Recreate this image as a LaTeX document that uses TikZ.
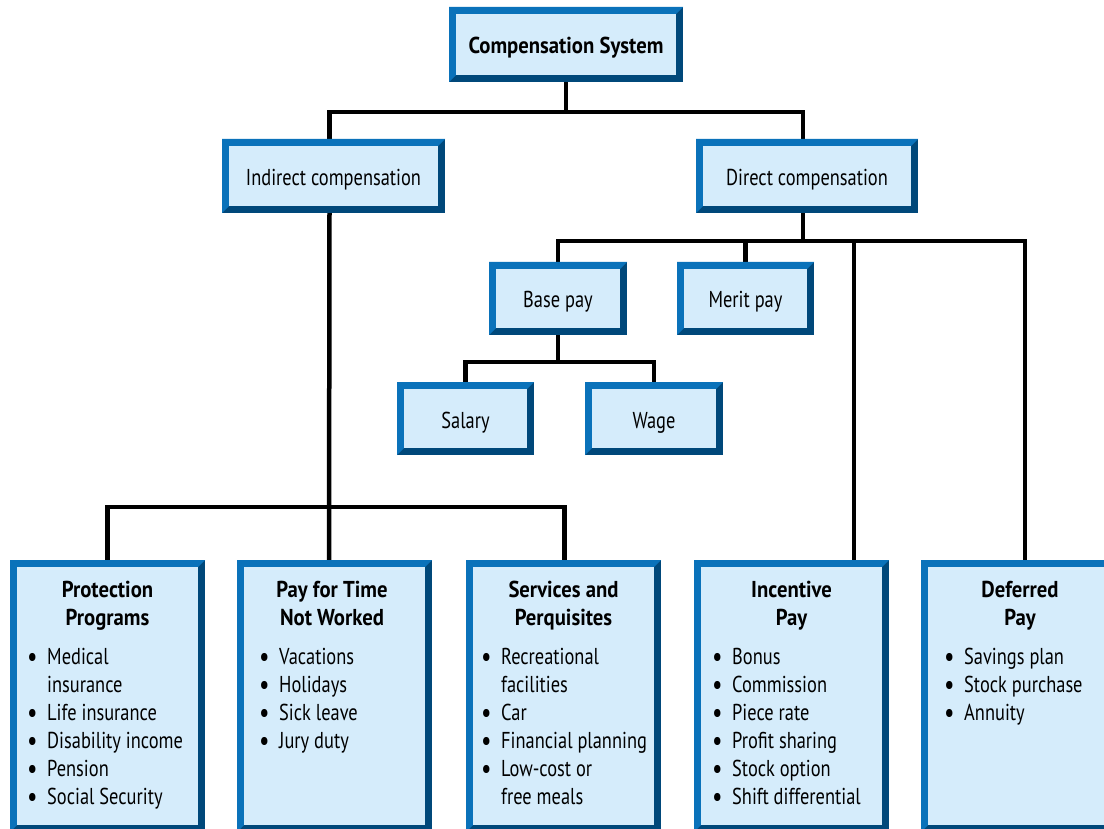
\documentclass[tikz,border=0pt]{standalone}
\usepackage{fontspec}
\setmainfont{PT Sans}[FakeStretch=0.8,BoldFeatures={FakeStretch=0.9}]
\usetikzlibrary{backgrounds,calc}
\definecolor{midb}{HTML}{0A72BA}
\definecolor{darkb}{HTML}{00487A}
\definecolor{innerb}{HTML}{D5ECFB}
\newcommand\bul[1]{\makebox[20pt][l]{\raisebox{-2pt}{\fontsize{29}{28}\selectfont•}}#1}
\newcommand\cont[1]{\hspace*{20pt}#1}
\tikzset{
  bevbox/.style={rectangle, inner sep=0pt, outer sep=0pt, fill=darkb,
    font=\fontsize{23}{28}\selectfont, text height=19pt, text depth=0pt,
    path picture={
      \fill[midb] (path picture bounding box.south west) -- (path picture bounding box.north west)
        -- (path picture bounding box.north east)
        -- ([shift={(-7pt,-7pt)}]path picture bounding box.north east)
        -- ([shift={(7pt,-7pt)}]path picture bounding box.north west)
        -- ([shift={(7pt,7pt)}]path picture bounding box.south west) -- cycle;
      \fill[innerb] ([shift={(7pt,7pt)}]path picture bounding box.south west)
        rectangle ([shift={(-7pt,-7pt)}]path picture bounding box.north east);
    }},
  smallbox/.style={bevbox, minimum width=137pt, minimum height=73pt},
  midbox/.style={bevbox, minimum width=223pt, minimum height=74pt},
  bigbox/.style={bevbox, minimum width=195pt, minimum height=272pt},
  conn/.style={line width=4.5pt, black, line join=miter},
  boxtitle/.style={anchor=base, inner sep=0pt, font=\bfseries\fontsize{23}{28}\selectfont},
  boxlist/.style={anchor=base west, inner sep=0pt, font=\fontsize{23}{28}\selectfont}
}
\begin{document}
\begin{tikzpicture}[x=1pt,y=-1pt]
\useasboundingbox (0,0) rectangle (1104,829);
\clip (0,0) rectangle (1104,829);
% top level
\node[bevbox, minimum width=234pt, minimum height=75pt] (cs) at (566,44.5) {\bfseries Compensation System};
\node[midbox] (ind) at (333.5,176) {Indirect compensation};
\node[midbox, minimum width=222pt] (dir) at (807,176) {Direct compensation};
\node[smallbox, minimum width=138pt] (base) at (558,298.5) {Base pay};
\node[smallbox] (merit) at (745.5,298.5) {Merit pay};
\node[smallbox] (sal) at (465.5,418.5) {Salary};
\node[smallbox, minimum width=138pt] (wage) at (654,418.5) {Wage};
% bottom boxes
\node[bigbox] (prot) at (107.5,696) {};
\node[bigbox] (pay) at (334.5,696) {};
\node[bigbox] (serv) at (563.5,696) {};
\node[bigbox] (inc) at (791.5,696) {};
\node[bigbox] (def) at (1018.5,696) {};
% titles
\node[boxtitle] (protT) at (107.5,597) {\begin{tabular}[t]{@{}c@{}}Protection\\Programs\end{tabular}};
\node[boxtitle] (payT) at (332,597) {\begin{tabular}[t]{@{}c@{}}Pay for Time\\Not Worked\end{tabular}};
\node[boxtitle] (servT) at (563.5,597) {\begin{tabular}[t]{@{}c@{}}Services and\\Perquisites\end{tabular}};
\node[boxtitle] (incT) at (791.5,597) {\begin{tabular}[t]{@{}c@{}}Incentive\\Pay\end{tabular}};
\node[boxtitle] (defT) at (1020,597) {\begin{tabular}[t]{@{}c@{}}Deferred\\Pay\end{tabular}};
% lists
\node[boxlist] (protL) at (27,664) {\begin{tabular}[t]{@{}l@{}}\bul{Medical}\\\cont{insurance}\\\bul{Life insurance}\\\bul{Disability income}\\\bul{Pension}\\\bul{Social Security}\end{tabular}};
\node[boxlist] (payL) at (259,664) {\begin{tabular}[t]{@{}l@{}}\bul{Vacations}\\\bul{Holidays}\\\bul{Sick leave}\\\bul{Jury duty}\end{tabular}};
\node[boxlist] (servL) at (481,664) {\begin{tabular}[t]{@{}l@{}}\bul{Recreational}\\\cont{facilities}\\\bul{Car}\\\bul{Financial planning}\\\bul{Low-cost or}\\\cont{free meals}\end{tabular}};
\node[boxlist] (incL) at (712,664) {\begin{tabular}[t]{@{}l@{}}\bul{Bonus}\\\bul{Commission}\\\bul{Piece rate}\\\bul{Profit sharing}\\\bul{Stock option}\\\bul{Shift differential}\end{tabular}};
\node[boxlist] (defL) at (944,664) {\begin{tabular}[t]{@{}l@{}}\bul{Savings plan}\\\bul{Stock purchase}\\\bul{Annuity}\end{tabular}};
% connectors
\begin{pgfonlayer}{background}
\fill[white] (0,0) rectangle (1104,829);
\draw[conn] (cs.south) -- ++(0,30);
\draw[conn] ($(ind.north)+(-4,0)$) |- ($(cs.south)+(0,30)$) -| ($(dir.north)+(-4,0)$);
\draw[conn] ($(ind.south)+(-4,0)$) -- ($(pay.north)+(-5.5,0)$);
\draw[conn] (prot.north) -- ++(0,-53) -| ($(serv.north)+(1,0)$);
\draw[conn] ($(dir.south)+(-4,0)$) -- ++(0,29);
\draw[conn] (base.north) -- ++(0,-21) -| ($(def.north west)+(104,0)$);
\draw[conn] (merit.north) -- ++(0,-21);
\draw[conn] ($(inc.north east)+(-35,0)$) -- ++(0,-319);
\draw[conn] (base.south) -- ++(0,28);
\draw[conn] (sal.north) -- ++(0,-20) -| (wage.north);
\end{pgfonlayer}
\end{tikzpicture}
\end{document}
